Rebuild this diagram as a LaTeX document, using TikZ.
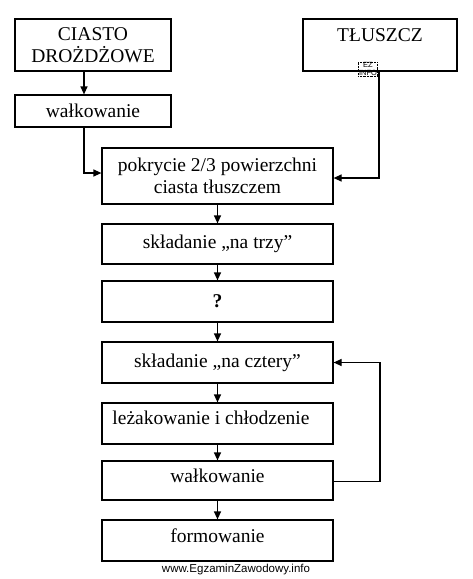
\documentclass[tikz,border=0pt]{standalone}
\usepackage{fontspec}
\setmainfont{Liberation Serif}
\setsansfont{Liberation Sans}
\usetikzlibrary{arrows.meta}
\begin{document}
\begin{tikzpicture}[x=1pt,y=-1pt,
  txt/.style={font=\fontsize{19.5}{22}\selectfont},
  box/.style={draw, line width=1.2pt, inner sep=0pt, align=center, txt},
  arr/.style={line width=1.2pt, -{Triangle[length=8pt,width=7pt]}},
  ln/.style={line width=1.2pt}]
\useasboundingbox (0,0) rectangle (472,579);
% boxes
\node[box, minimum width=156pt, minimum height=52pt] (ciasto) at (93,45) {CIASTO\\DROŻDŻOWE};
\node[box, minimum width=154pt, minimum height=52pt] (tluszcz) at (380,45) {};
\node[txt] (tlt) at (380,35) {TŁUSZCZ};
\node[draw, densely dotted, line width=0.4pt, inner sep=0.6pt, align=center,
  font=\sffamily\fontsize{7.5}{7.5}\selectfont] (ez) at (368,69) {EZ\\INFO};
\node[box, minimum width=156pt, minimum height=32pt] (walk1) at (93,111) {wałkowanie};
\node[box, minimum width=231pt, minimum height=56pt] (pokr) at (217.5,176) {pokrycie 2/3 powierzchni\\ciasta tłuszczem};
\node[box, minimum width=231pt, minimum height=40pt] (trzy) at (217.5,244) {składanie „na trzy”};
\node[box, minimum width=231pt, minimum height=41pt] (pyt) at (217.5,301.5) {\textbf{?}};
\node[box, minimum width=231pt, minimum height=41pt] (cztery) at (217.5,362.5) {składanie „na cztery”};
\node[box, minimum width=231pt, minimum height=41pt] (lez) at (217.5,423.5) {};
\node[txt] (lezt) at (211,418) {leżakowanie i chłodzenie};
\node[box, minimum width=231pt, minimum height=39pt] (walk2) at (217.5,480.5) {};
\node[txt] (walk2t) at (217.5,476) {wałkowanie};
\node[box, minimum width=231pt, minimum height=41pt] (form) at (217.5,540.5) {};
\node[txt] (formt) at (217.5,536) {formowanie};
\node[font=\sffamily\fontsize{11.5}{12}\selectfont] (url) at (236,570) {www.EgzaminZawodowy.info};
% connectors
\coordinate (c1) at (84,173);
\coordinate (c2) at (379,178);
\coordinate (c3) at (380,481.5);
\coordinate (c4) at (380,362.5);
\draw[arr] (ciasto.south -| 84,0) -- (walk1.north -| 84,0);
\draw[arr] (walk1.south -| c1) -- (c1) -- (c1 -| pokr.west);
\draw[arr] (tluszcz.south -| c2) -- (c2) -- (c2 -| pokr.east);
\draw[arr] (pokr.south) -- (trzy.north);
\draw[arr] (trzy.south) -- (pyt.north);
\draw[arr] (pyt.south) -- (cztery.north);
\draw[arr] (cztery.south) -- (lez.north);
\draw[arr] (lez.south) -- (walk2.north);
\draw[arr] (walk2.south) -- (form.north);
\draw[arr] (c3 -| walk2.east) -- (c3) -- (c4) -- (cztery.east);
\end{tikzpicture}
\end{document}
